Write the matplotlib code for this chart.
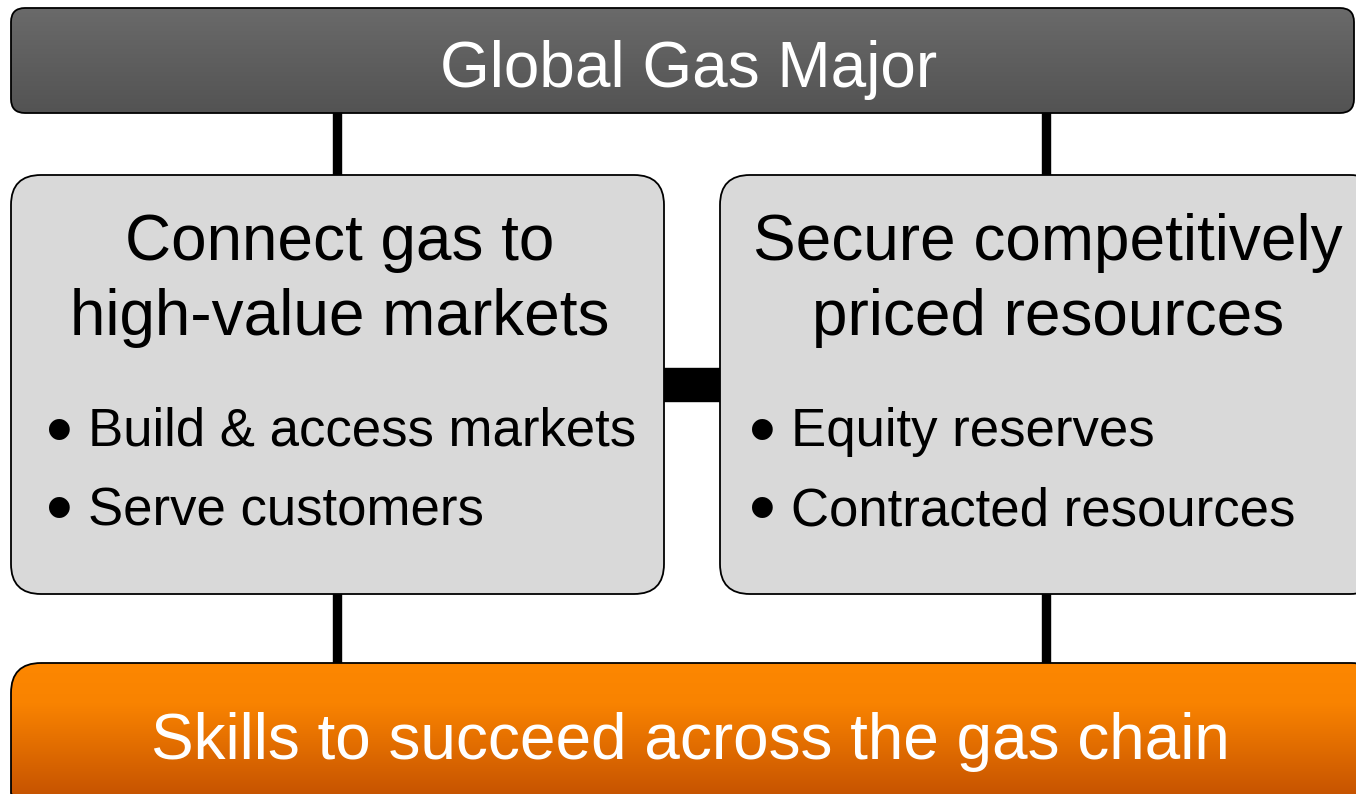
import numpy as np
import matplotlib
matplotlib.use("Agg")
import matplotlib.pyplot as plt
from matplotlib.patches import FancyBboxPatch, Rectangle
from matplotlib.colors import LinearSegmentedColormap

plt.rcParams['font.family'] = ['Liberation Sans', 'DejaVu Sans']

# diagram content
top_title = "Global Gas Major"
left_heading = ["Connect gas to", "high-value markets"]
left_bullets = ["Build & access markets", "Serve customers"]
right_heading = ["Secure competitively", "priced resources"]
right_bullets = ["Equity reserves", "Contracted resources"]
bottom_title = "Skills to succeed across the gas chain"

W, H = 1356, 794
fig = plt.figure(figsize=(W / 100, H / 100), dpi=100)
ax = fig.add_axes([0, 0, 1, 1])
ax.set_xlim(0, W)
ax.set_ylim(H, 0)
ax.axis('off')


def box(x, y, w, h, r, fill=None, grad=None, gh=None, z=2):
    p = FancyBboxPatch((x + r, y + r), w - 2 * r, h - 2 * r,
                       boxstyle="round,pad=%g" % r, linewidth=1.3,
                       edgecolor='black', facecolor=fill if fill else 'none', zorder=z)
    ax.add_patch(p)
    if grad is not None:
        cmap = LinearSegmentedColormap.from_list('g', grad, N=256)
        img = ax.imshow(np.linspace(0, 1, 256).reshape(-1, 1), cmap=cmap,
                        extent=[x, x + w, y + (gh or h), y], aspect='auto', zorder=z - 0.5,
                        interpolation='bilinear')
        img.set_clip_path(p)
    return p


# connectors
for cx in [337, 1046]:
    ax.add_patch(Rectangle((cx - 4, 110), 8, 70, color='black', zorder=1))
    ax.add_patch(Rectangle((cx - 4, 590), 8, 78, color='black', zorder=1))
ax.add_patch(Rectangle((660, 368), 64, 33, color='black', zorder=1))

# top bar
box(11, 8, 1343, 105, 14, grad=[(0, '#6a6a6a'), (1, '#535353')])
ax.text(689, 87, top_title, color='white', fontsize=46, ha='center', va='baseline', zorder=5)

# middle boxes
box(11, 175, 653, 419, 30, fill='#d9d9d9')
box(720, 175, 660, 419, 30, fill='#d9d9d9')

for i, line in enumerate(left_heading):
    ax.text(340, 260 + i * 75, line, fontsize=46, ha='center', va='baseline', zorder=5)
for i, line in enumerate(right_heading):
    ax.text(1048, 260 + i * 75, line, fontsize=46, ha='center', va='baseline', zorder=5)
for i, b in enumerate(left_bullets):
    ax.text(59, 435 + i * 79, "\u2022", fontsize=55, ha='center', va='center', zorder=5)
    ax.text(88, 446 + i * 79, b, fontsize=38, ha='left', va='baseline', zorder=5)
for i, b in enumerate(right_bullets):
    ax.text(762, 435 + i * 79, "\u2022", fontsize=55, ha='center', va='center', zorder=5)
    ax.text(791, 446 + i * 79, b, fontsize=38, ha='left', va='baseline', zorder=5)

# bottom bar
box(11, 663, 1370, 160, 30, gh=135,
    grad=[(0, '#fd8700'), (0.3, '#f98300'), (1, '#c55200')])
ax.text(690, 759, bottom_title, color='white', fontsize=46, ha='center', va='baseline', zorder=5)

fig.savefig('out.png', dpi=100)
